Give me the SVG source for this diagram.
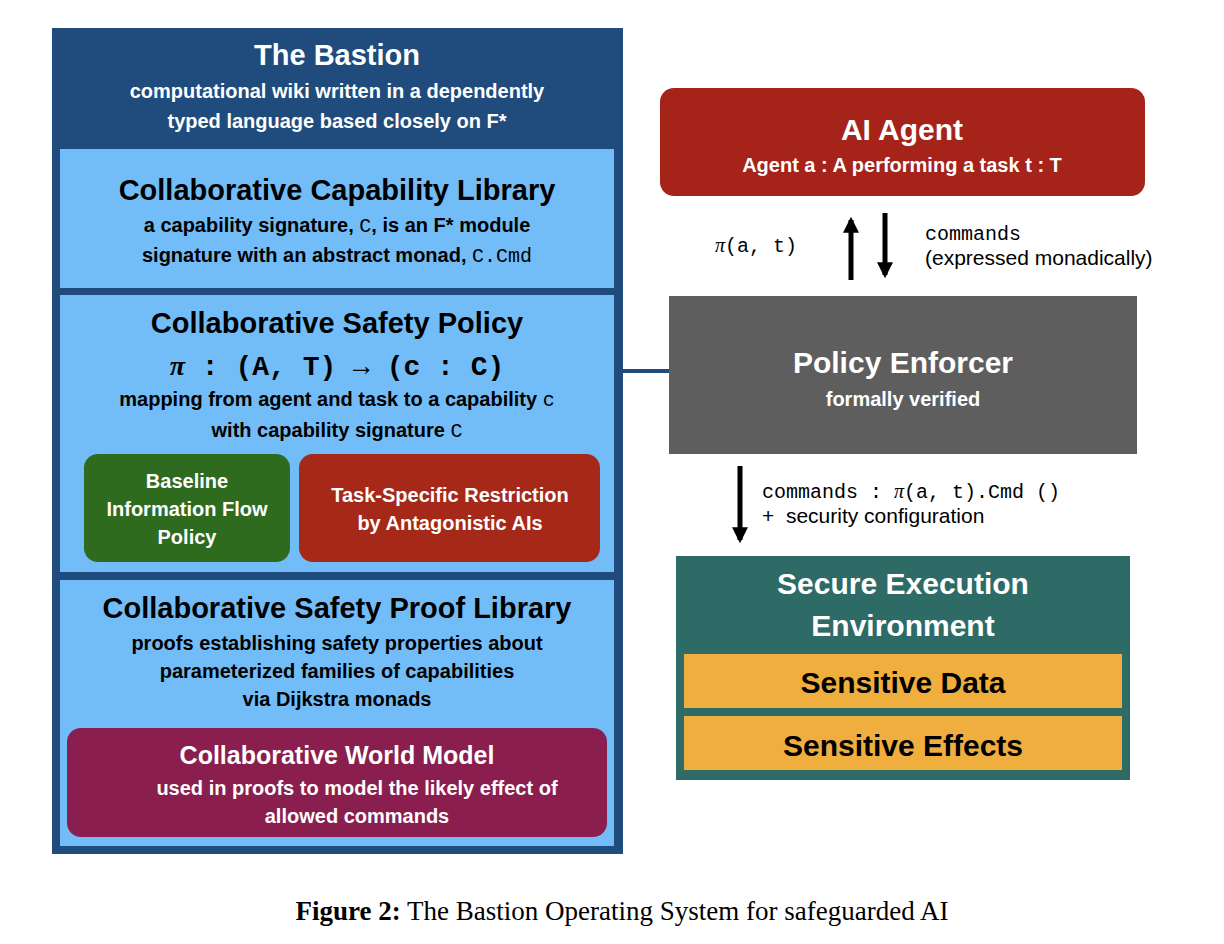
<svg xmlns="http://www.w3.org/2000/svg" width="1224" height="944" viewBox="0 0 1224 944">
<style>
.s{font-family:"Liberation Sans",Arial,sans-serif;font-weight:bold;text-anchor:middle}
.m{font-family:"Liberation Mono","Courier New",monospace}
.w{fill:#fff}
.k{fill:#000}
.sec{fill:#72BDF8}
</style>
<defs>
<marker id="ah" viewBox="0 0 10 10" refX="8" refY="5" markerWidth="3.2" markerHeight="3.2" orient="auto"><path d="M0,0L10,5L0,10z" fill="#000"/></marker>
</defs>
<rect width="1224" height="944" fill="#fff"/>
<g id="bastion">
<rect x="52" y="28" width="571" height="826" fill="#1F4C7C"/>
<text x="337" y="65" class="s w" font-size="29">The Bastion</text>
<text x="337" y="98" class="s w" font-size="20">computational wiki written in a dependently</text>
<text x="337" y="128" class="s w" font-size="20">typed language based closely on F*</text>
</g>
<g id="capability">
<rect x="60" y="149" width="554" height="139" class="sec"/>
<text x="337" y="200" class="s k" font-size="29">Collaborative Capability Library</text>
<text x="337" y="232" class="s k" font-size="20">a capability signature, <tspan class="m" font-weight="normal">C</tspan>, is an F* module</text>
<text x="337" y="262" class="s k" font-size="20">signature with an abstract monad, <tspan class="m" font-weight="normal">C.Cmd</tspan></text>
</g>
<g id="policy">
<rect x="60" y="295" width="554" height="277" class="sec"/>
<text x="337" y="333" class="s k" font-size="29">Collaborative Safety Policy</text>
<text x="337" y="375" class="m k" font-size="28" text-anchor="middle" font-weight="bold" xml:space="preserve"><tspan font-style="italic" font-family="Liberation Serif,serif">π</tspan> : (A, T) → (c : C)</text>
<text x="337" y="406" class="s k" font-size="20">mapping from agent and task to a capability <tspan class="m" font-weight="normal">c</tspan></text>
<text x="337" y="437" class="s k" font-size="20">with capability signature <tspan class="m" font-weight="normal">C</tspan></text>
</g>
<g id="baseline">
<rect x="84" y="454" width="206" height="108" rx="14" fill="#2E6B1F"/>
<text x="187" y="488" class="s w" font-size="20">Baseline</text>
<text x="187" y="516" class="s w" font-size="20">Information Flow</text>
<text x="187" y="544" class="s w" font-size="20">Policy</text>
</g>
<g id="task">
<rect x="299" y="454" width="301" height="108" rx="14" fill="#A52818"/>
<text x="450" y="502" class="s w" font-size="20">Task-Specific Restriction</text>
<text x="450" y="530" class="s w" font-size="20">by Antagonistic AIs</text>
</g>
<g id="proof">
<rect x="60" y="580" width="554" height="266" class="sec"/>
<text x="337" y="618" class="s k" font-size="29">Collaborative Safety Proof Library</text>
<text x="337" y="650" class="s k" font-size="20">proofs establishing safety properties about</text>
<text x="337" y="678" class="s k" font-size="20">parameterized families of capabilities</text>
<text x="337" y="706" class="s k" font-size="20">via Dijkstra monads</text>
</g>
<g id="world">
<rect x="67" y="728" width="540" height="109" rx="14" fill="#8A1E4E"/>
<text x="337" y="764" class="s w" font-size="25">Collaborative World Model</text>
<text x="357" y="795" class="s w" font-size="20">used in proofs to model the likely effect of</text>
<text x="357" y="823" class="s w" font-size="20">allowed commands</text>
</g>
<g id="agent">
<rect x="660" y="88" width="485" height="108" rx="14" fill="#A52318"/>
<text x="902" y="140" class="s w" font-size="30">AI Agent</text>
<text x="902" y="172" class="s w" font-size="20">Agent a : A performing a task t : T</text>
</g>
<g id="enforcer">
<rect x="669" y="296" width="468" height="158" fill="#5E5E5E"/>
<text x="903" y="373" class="s w" font-size="30">Policy Enforcer</text>
<text x="903" y="406" class="s w" font-size="20">formally verified</text>
</g>
<g id="see">
<rect x="676" y="556" width="454" height="224" fill="#2E6B66"/>
<text x="903" y="594" class="s w" font-size="30">Secure Execution</text>
<text x="903" y="636" class="s w" font-size="30">Environment</text>
<rect x="684" y="654" width="438" height="54" fill="#F0AE3E"/>
<text x="903" y="693" class="s k" font-size="30">Sensitive Data</text>
<rect x="684" y="716" width="438" height="54" fill="#F0AE3E"/>
<text x="903" y="756" class="s k" font-size="30">Sensitive Effects</text>
</g>
<g id="connectors" stroke="#000" stroke-width="5" fill="none">
<line x1="623" y1="371" x2="669" y2="371" stroke="#1F4C7C" stroke-width="4"/>
<line x1="851" y1="280" x2="851" y2="220" marker-end="url(#ah)"/>
<line x1="885" y1="213" x2="885" y2="275" marker-end="url(#ah)"/>
<line x1="740" y1="466" x2="740" y2="540" marker-end="url(#ah)"/>
</g>
<g id="labels">
<text x="715" y="252" class="m k" font-size="20"><tspan font-style="italic" font-family="Liberation Serif,serif">π</tspan>(a, t)</text>
<text x="925" y="240" class="m k" font-size="20">commands</text>
<text x="925" y="265" font-family="Liberation Sans,Arial,sans-serif" font-size="21" fill="#000">(expressed monadically)</text>
<text x="762" y="498" class="m k" font-size="20" xml:space="preserve">commands : <tspan font-style="italic" font-family="Liberation Serif,serif">π</tspan>(a, t).Cmd ()</text>
<text x="762" y="523" font-family="Liberation Sans,Arial,sans-serif" font-size="21" fill="#000" xml:space="preserve">+  security configuration</text>
</g>
<text x="622" y="920" font-family="Liberation Serif,serif" font-size="27" text-anchor="middle" fill="#000"><tspan font-weight="bold">Figure 2:</tspan> The Bastion Operating System for safeguarded AI</text>
</svg>
